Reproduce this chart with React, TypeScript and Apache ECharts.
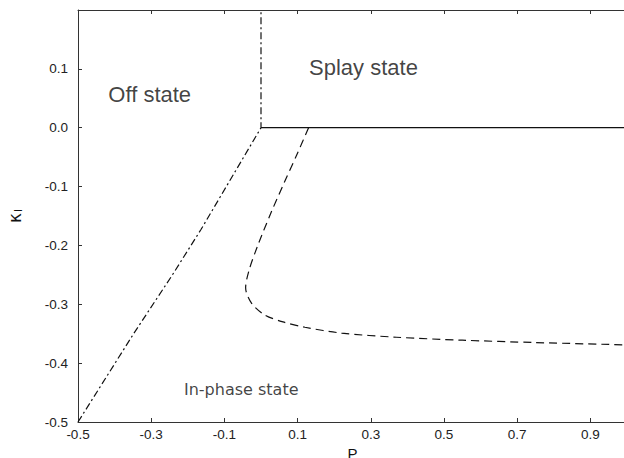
import React, { useEffect, useRef } from "react";
import * as echarts from "echarts";

// Tick values
const xTicks = [-0.5, -0.3, -0.1, 0.1, 0.3, 0.5, 0.7, 0.9];
const yTicks = [-0.5, -0.4, -0.3, -0.2, -0.1, 0.0, 0.1];

// Off/in-phase boundary (dash-dot) and Off/splay boundary (vertical dash-dot)
const offBoundary: [number, number][] = [
  [-0.5, -0.5],
  [-0.347, -0.349],
  [-0.242, -0.25],
  [-0.164, -0.173],
  [0.0, 0.0],
  [0.0, 0.2],
];

// Splay boundary (solid)
const splayBoundary: [number, number][] = [
  [0.0, 0.0],
  [1.0, 0.0],
];

// In-phase stability boundary (dashed)
const inPhaseBoundary: [number, number][] = [
  [0.13, 0.0],
  [0.1, -0.043],
  [0.063, -0.094],
  [0.027, -0.145],
  [-0.01, -0.202],
  [-0.033, -0.243],
  [-0.042, -0.272],
  [-0.026, -0.298],
  [0.01, -0.318],
  [0.06, -0.33],
  [0.12, -0.339],
  [0.22, -0.349],
  [0.37, -0.356],
  [0.55, -0.361],
  [0.75, -0.365],
  [1.0, -0.369],
];

// Region labels
const regionLabels: { p: number; k: number; text: string; big: boolean }[] = [
  { p: -0.304, k: 0.056, text: "Off state", big: true },
  { p: 0.28, k: 0.102, text: "Splay state", big: true },
  { p: -0.054, k: -0.444, text: "In-phase state", big: false },
];

export default function App() {
  const ref = useRef<HTMLDivElement>(null);
  useEffect(() => {
    if (!ref.current) return;
    const chart = echarts.init(ref.current, undefined, { renderer: "svg" });
    const axisColor = "#333";
    chart.setOption({
      animation: false,
      backgroundColor: "#fff",
      grid: {
        left: 78,
        top: 10,
        width: 549,
        height: 412,
        containLabel: false,
        outerBoundsMode: "none",
      },
      xAxis: [
        {
          type: "value",
          min: -0.5,
          max: 1.0,
          position: "bottom",
          name: "P",
          nameLocation: "middle",
          nameGap: 16,
          nameTextStyle: { fontFamily: "Liberation Sans", fontSize: 15, lineHeight: 16, color: "#111" },
          axisLine: { show: true, onZero: false, lineStyle: { color: axisColor, width: 1 } },
          axisTick: { show: true, inside: true, length: 4, customValues: xTicks, lineStyle: { color: axisColor } },
          axisLabel: {
            customValues: xTicks,
            margin: 5,
            fontFamily: "Liberation Sans",
            fontSize: 13.5,
            color: "#222",
            formatter: (v: number) => v.toFixed(1),
          },
          splitLine: { show: false },
        },
        {
          type: "value",
          min: -0.5,
          max: 1.0,
          position: "top",
          axisLine: { show: true, onZero: false, lineStyle: { color: axisColor, width: 1 } },
          axisTick: { show: true, inside: true, length: 4, customValues: xTicks, lineStyle: { color: axisColor } },
          axisLabel: { show: false },
          splitLine: { show: false },
        },
      ],
      yAxis: {
        type: "value",
        min: -0.5,
        max: 0.2,
        interval: 0.1,
        name: "{k|κ}{s|I}",
        nameLocation: "middle",
        nameGap: 55,
        nameRotate: 90,
        nameTextStyle: {
          rich: {
            k: { fontFamily: "DejaVu Sans", fontSize: 17, color: "#111" },
            s: { fontFamily: "DejaVu Sans", fontSize: 10, color: "#111", padding: [7, 0, 0, 1] },
          },
        },
        axisLine: { show: true, onZero: false, lineStyle: { color: axisColor, width: 1 } },
        axisTick: { show: true, inside: true, length: 4, customValues: yTicks, lineStyle: { color: axisColor } },
        axisLabel: {
          customValues: yTicks,
          margin: 10,
          fontFamily: "Liberation Sans",
          fontSize: 13.5,
          color: "#222",
          formatter: (v: number) => (Math.abs(v) < 1e-9 ? "0.0" : v.toFixed(1)),
        },
        splitLine: { show: false },
      },
      series: [
        {
          type: "line",
          data: offBoundary,
          showSymbol: false,
          symbol: "none",
          lineStyle: { color: "#111", width: 1.2, type: [7, 3, 2, 3] },
          z: 3,
        },
        {
          type: "line",
          data: splayBoundary,
          showSymbol: false,
          symbol: "none",
          lineStyle: { color: "#111", width: 1.3, type: "solid" },
          z: 3,
        },
        {
          type: "line",
          data: inPhaseBoundary,
          showSymbol: false,
          symbol: "none",
          smooth: 0.3,
          lineStyle: { color: "#111", width: 1.2, type: [8, 5] },
          z: 3,
        },
        {
          type: "scatter",
          symbolSize: 1,
          itemStyle: { color: "transparent" },
          z: 4,
          data: regionLabels.map((r) => ({
            value: [r.p, r.k],
            label: {
              show: true,
              position: "inside",
              formatter: r.text,
              fontFamily: r.big ? "Liberation Sans" : "DejaVu Sans",
              fontSize: r.big ? 22 : 16,
              color: "#111",
            },
          })),
        },
      ],
    });
    return () => chart.dispose();
  }, []);
  return (
    <div
      ref={ref}
      style={{ position: "absolute", left: 0, top: 0, width: 624, height: 458 }}
    />
  );
}
